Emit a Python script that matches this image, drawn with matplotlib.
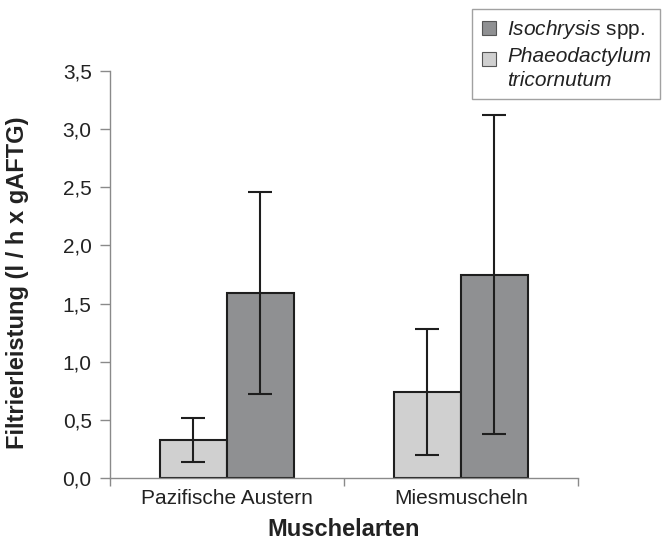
import numpy as np
import matplotlib
matplotlib.use("Agg")
import matplotlib.pyplot as plt

plt.rcParams['font.family'] = ['Liberation Sans', 'DejaVu Sans']
plt.rcParams['mathtext.fontset'] = 'custom'
plt.rcParams['mathtext.rm'] = 'Liberation Sans'
plt.rcParams['mathtext.it'] = 'Liberation Sans:italic'

categories = ['Pazifische Austern', 'Miesmuscheln']
phaeo_mean = [0.327, 0.737]
phaeo_err = [0.19, 0.54]
iso_mean = [1.59, 1.748]
iso_err = [0.87, 1.37]

light = '#d0d0d0'
dark = '#8f9092'
edge = '#1e1e1e'
grey = '#8a8a8a'
txt = '#222222'

fig = plt.figure(figsize=(6.65, 5.41), dpi=100)
ax = fig.add_axes([0.165, 0.1165, 0.704, 0.7525])

x = np.arange(len(categories))
w = 0.287
ekw = dict(ecolor=edge, elinewidth=1.5, capsize=8.5, capthick=1.5)
ax.bar(x - w/2, phaeo_mean, w, yerr=phaeo_err, color=light, edgecolor=edge,
       linewidth=1.5, error_kw=ekw, label='Phaeodactylum\ntricornutum')
ax.bar(x + w/2, iso_mean, w, yerr=iso_err, color=dark, edgecolor=edge,
       linewidth=1.5, error_kw=ekw, label='$\\mathit{Isochrysis}$ spp.')

yt = np.arange(0, 3.51, 0.5)
ax.set_xlim(-0.5, 1.5)
ax.set_ylim(0, 3.5)
ax.set_yticks(yt)
ax.set_yticklabels([f'{v:.1f}'.replace('.', ',') for v in yt])
ax.set_xticks(x)
ax.set_xticklabels(categories)
ax.set_xticks([-0.5, 0.5, 1.5], minor=True)
ax.tick_params(axis='x', which='major', length=0, labelsize=15, pad=8, labelcolor=txt)
ax.tick_params(axis='x', which='minor', length=6, color=grey, width=1)
ax.tick_params(axis='y', length=7, color=grey, width=1, labelsize=15, pad=6, labelcolor=txt)

for s in ['top', 'right']:
    ax.spines[s].set_visible(False)
for s in ['left', 'bottom']:
    ax.spines[s].set_color(grey)
    ax.spines[s].set_linewidth(1)

ax.set_xlabel('Muschelarten', fontsize=17, fontweight='bold', labelpad=7, color=txt)
ax.set_ylabel('Filtrierleistung (l / h x gAFTG)', fontsize=17, fontweight='bold', color=txt)
ax.yaxis.set_label_coords(-0.172, 0.48)

handles, labels = ax.get_legend_handles_labels()
leg = fig.legend(handles[::-1], labels[::-1], loc='upper right',
                 bbox_to_anchor=(0.993, 0.984), borderaxespad=0, fontsize=15,
                 frameon=True, fancybox=False, handlelength=0.67, handleheight=0.67,
                 handletextpad=0.55, borderpad=0.45, labelspacing=0.3)
leg.get_frame().set_edgecolor(grey)
leg.get_frame().set_linewidth(1)
leg_texts = leg.get_texts()
leg_texts[1].set_fontstyle('italic')
for t in leg_texts:
    t.set_linespacing(1.3)
    t.set_color(txt)
for p in leg.get_patches():
    p.set_linewidth(0.8)
    p.set_edgecolor('#555555')
# square next to the first line of the two-line label
p2 = leg.get_patches()[1]
p2.set_y(p2.get_y() + 7)

fig.savefig('out.png', dpi=100)
